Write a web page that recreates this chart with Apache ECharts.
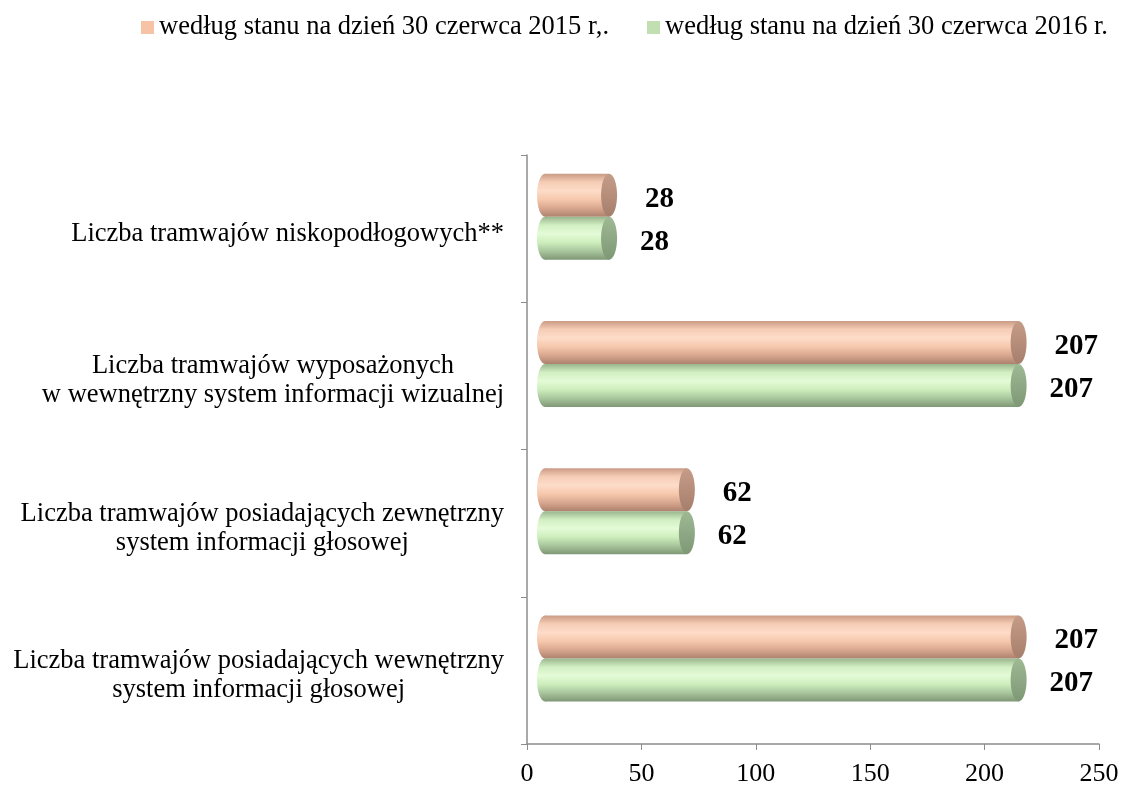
<!DOCTYPE html>
<html>
<head>
<meta charset="utf-8">
<script src="https://cdn.jsdelivr.net/npm/echarts@6/dist/echarts.min.js"></script>
<style>html,body{margin:0;padding:0;background:#fff}#chart{width:1122px;height:787px}</style>
</head>
<body>
<div id="chart"></div>
<script>
const categories = [
  'Liczba tramwajów niskopodłogowych**',
  'Liczba tramwajów wyposażonych\nw wewnętrzny system informacji wizualnej',
  'Liczba tramwajów posiadających zewnętrzny\nsystem informacji głosowej',
  'Liczba tramwajów posiadających wewnętrzny\nsystem informacji głosowej'
];
const seriesNames = ['według stanu na dzień 30 czerwca 2015 r,.', 'według stanu na dzień 30 czerwca 2016 r.'];
const values2015 = [28, 207, 62, 207];
const values2016 = [28, 207, 62, 207];
const xTicks = [0, 50, 100, 150, 200, 250];

const FONT = '"Liberation Serif", "Times New Roman", serif';
const palettes = [
  {legend: '#f6c3a6', body: ['#c99a84', '#f6cdb6', '#fddcc8', '#f6c8ad', '#d9a78f', '#ad826e'], cap: ['#c59c88', '#a67f6c']},
  {legend: '#c2dfb2', body: ['#98b48c', '#d2efc3', '#e4fbd7', '#cdeebc', '#a9c69d', '#7f9876'], cap: ['#9fb995', '#7e9775']}
];

function grad(stops) {
  const n = stops.length;
  return new echarts.graphic.LinearGradient(0, 0, 0, 1, stops.map((c, i) => ({offset: i / (n - 1), color: c})));
}

function makeRender(si) {
  const pal = palettes[si];
  return function (params, api) {
    const v = api.value(0);
    const cat = api.value(1);
    const p0 = api.coord([0, cat]);
    const p1 = api.coord([v, cat]);
    const h = 43;
    const depth = 18;
    const lift = 12;
    const rx = 8;
    const mid = p0[1] - lift;
    const yTop = si === 0 ? mid - h : mid;
    const x0 = p0[0] + depth;
    const x1 = p1[0] + depth;
    const cy = yTop + h / 2;
    return {
      type: 'group',
      children: [
        {type: 'ellipse', shape: {cx: x0, cy: cy, rx: rx, ry: h / 2}, style: {fill: grad(pal.body)}},
        {type: 'rect', shape: {x: x0, y: yTop, width: x1 - x0, height: h}, style: {fill: grad(pal.body)}},
        {type: 'ellipse', shape: {cx: x1, cy: cy, rx: rx, ry: h / 2}, style: {fill: grad(pal.cap)}},
        {type: 'text', style: {text: String(v), x: x1 + rx + (si === 0 ? 28 : 23), y: cy + 4, verticalAlign: 'middle', align: 'left',
          font: 'bold 29px ' + FONT, fill: '#000'}}
      ]
    };
  };
}

const chart = echarts.init(document.getElementById('chart'), null, {renderer: 'canvas'});
chart.setOption({
  animation: false,
  backgroundColor: '#fff',
  legend: {
    top: 9, left: 136, itemGap: 38, icon: 'rect', itemWidth: 13, itemHeight: 13,
    textStyle: {fontFamily: FONT, fontSize: 26.5, color: '#000'},
    data: [
      {name: seriesNames[0], itemStyle: {color: palettes[0].legend}},
      {name: seriesNames[1], itemStyle: {color: palettes[1].legend}}
    ]
  },
  grid: {left: 527, right: 23, top: 155, bottom: 42, containLabel: false},
  xAxis: {
    type: 'value', min: 0, max: 250, interval: 50,
    axisLine: {show: true, lineStyle: {color: '#8c8c8c', width: 1.5}},
    axisTick: {show: true, length: 6, lineStyle: {color: '#8c8c8c'}},
    splitLine: {show: false},
    axisLabel: {fontFamily: FONT, fontSize: 26, color: '#000', margin: 17,
      formatter: v => xTicks.includes(v) ? String(v) : ''}
  },
  yAxis: {
    type: 'category', inverse: true, data: categories,
    axisLine: {show: true, lineStyle: {color: '#8c8c8c', width: 1.5}},
    axisTick: {show: true, length: 6, lineStyle: {color: '#8c8c8c'}},
    axisLabel: {
      margin: 23, fontFamily: FONT, fontSize: 26.5, color: '#000', lineHeight: 29,
      padding: [10, 0, 0, 0],
      formatter: v => v.split('\n').map(l => '{c|' + l + '}').join('\n'),
      rich: {c: {align: 'center', fontFamily: FONT, fontSize: 26.5, color: '#000', lineHeight: 29}}
    }
  },
  series: [0, 1].map(si => ({
    type: 'custom', name: seriesNames[si],
    itemStyle: {color: palettes[si].legend},
    encode: {x: 0, y: 1},
    renderItem: makeRender(si),
    data: (si === 0 ? values2015 : values2016).map((v, i) => [v, i])
  }))
});
</script>
</body>
</html>
